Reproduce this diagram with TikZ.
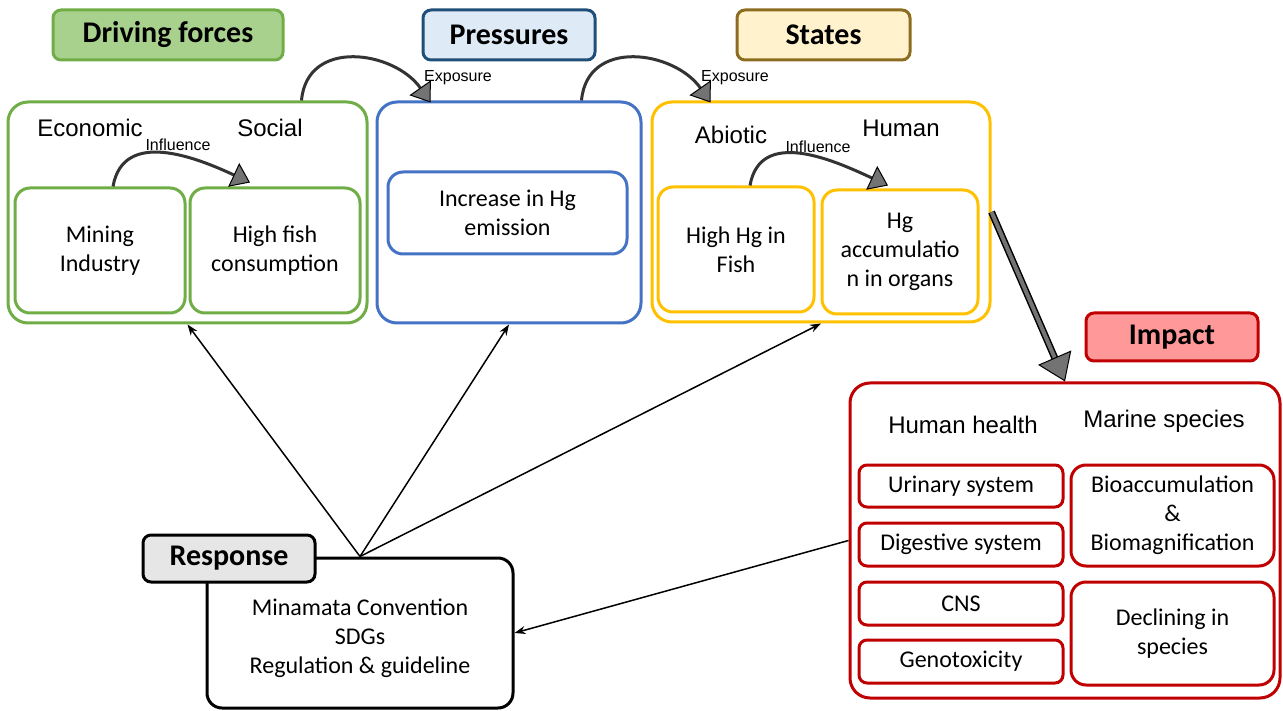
\documentclass[tikz,border=0pt]{standalone}
\usepackage{fontspec}
\setmainfont{Carlito}
\newfontfamily\arialfont{Liberation Sans}
\usetikzlibrary{arrows.meta}
\definecolor{dgreen}{HTML}{70AD47}
\definecolor{lgreen}{HTML}{A9D18E}
\definecolor{dblue}{HTML}{4472C4}
\definecolor{navy}{HTML}{1F4E79}
\definecolor{lblue}{HTML}{DEEBF7}
\definecolor{dyellow}{HTML}{FFC000}
\definecolor{lyellow}{HTML}{FFF2CC}
\definecolor{olive}{HTML}{8C6D1F}
\definecolor{dred}{HTML}{C00000}
\definecolor{lred}{HTML}{FF9999}
\definecolor{lgrey}{HTML}{E7E6E6}

\begin{document}
\begin{tikzpicture}[x=1pt,y=-1pt,
  box/.style={draw,line width=3pt,rounded corners=15pt,align=center,inner sep=0pt,
    font=\fontsize{24}{29}\selectfont},
  bigbox/.style={box,rounded corners=20pt},
  head/.style={draw,line width=3pt,rounded corners=8pt,minimum width=172pt,minimum height=48pt,
    inner sep=0pt,font=\fontsize{30}{36}\selectfont\bfseries},
  lbl/.style={font=\arialfont\fontsize{24}{28}\selectfont},
  small/.style={font=\arialfont\fontsize{16}{18}\selectfont},
  curl/.style={line width=3pt,draw=black!80,
    -{Triangle[length=18pt,width=26pt,fill=black!55,color=black,line width=1pt]}},
  resp/.style={line width=1.5pt,-{Stealth[length=11pt,width=8pt]}}]
\useasboundingbox (0,0) rectangle (1283,711);

% driving forces
\node[head,fill=lgreen,draw=dgreen,minimum width=230pt,minimum height=50pt] (hdrv) at (168,35) {Driving forces};
\node[bigbox,draw=dgreen,minimum width=359pt,minimum height=221pt] (drv) at (187.5,212.5) {};
\node[box,draw=dgreen,minimum width=170pt,minimum height=125pt] (min) at (100,250.5) {Mining\\Industry};
\node[box,draw=dgreen,minimum width=170pt,minimum height=125pt] (fish) at (275,250.5) {High fish\\consumption};
\node[lbl] (eco) at (90,128) {Economic};
\node[lbl] (soc) at (270,128) {Social};
\node[small] (infl1) at (178,145) {Influence};
\draw[curl] ([xshift=13pt]min.north) to[out=80,in=155,looseness=1.1] ([xshift=-25pt,yshift=4pt]fish.north);

% pressures
\node[head,fill=lblue,draw=navy,minimum height=50pt] (hprs) at (509,35) {Pressures};
\node[bigbox,draw=dblue,minimum width=264pt,minimum height=221pt] (prs) at (509,212.5) {};
\node[box,draw=dblue,minimum width=239pt,minimum height=82pt] (hgem) at (507.5,213) {Increase in Hg\\emission};

% states
\node[head,fill=lyellow,draw=olive,minimum width=173pt,minimum height=50pt] (hsts) at (823.5,35) {States};
\node[bigbox,draw=dyellow,minimum width=338pt,minimum height=220pt] (sts) at (821,212) {};
\node[box,draw=dyellow,minimum width=156pt,minimum height=125pt] (hgf) at (736,249.5) {High Hg in\\Fish};
\node[box,draw=dyellow,minimum width=156pt,minimum height=124pt] (hgo) at (900,252) {Hg\\accumulatio\\n in organs};
\node[lbl] (abio) at (731,135) {Abiotic};
\node[lbl] (hum) at (901,128) {Human};
\node[small] (infl2) at (818,147) {Influence};
\draw[curl] ([xshift=14pt]hgf.north) to[out=80,in=155,looseness=1.1] ([xshift=-12pt,yshift=3pt]hgo.north);

% exposure
\node[small] (exp1) at (458,78) {Exposure};
\node[small] (exp2) at (735,78) {Exposure};
\draw[curl] ([xshift=-67pt]drv.north east) to[out=85,in=125,looseness=1.25] ([xshift=55pt,yshift=-2pt]prs.north west);
\draw[curl] ([xshift=-61pt]prs.north east) to[out=85,in=125,looseness=1.25] ([xshift=60pt,yshift=-2pt]sts.north west);

% impact
\node[head,fill=lred,draw=dred] (himp) at (1172,337) {Impact};
\node[bigbox,draw=dred,minimum width=430pt,minimum height=315pt] (imp) at (1065,540.5) {};
\node[lbl] (hh) at (963,425) {Human health};
\node[lbl] (ms) at (1164,421) {Marine species};
\node[box,draw=dred,rounded corners=8pt,minimum width=204pt,minimum height=42pt] (uri) at (961,486) {Urinary system};
\node[box,draw=dred,rounded corners=8pt,minimum width=204pt,minimum height=43pt] (dig) at (961,544.5) {Digestive system};
\node[box,draw=dred,rounded corners=8pt,minimum width=204pt,minimum height=43pt] (cns) at (961,603.5) {CNS};
\node[box,draw=dred,rounded corners=8pt,minimum width=204pt,minimum height=43pt] (gen) at (961,661.5) {Genotoxicity};
\node[box,draw=dred,minimum width=203pt,minimum height=101pt] (bio) at (1172.5,515.5) {Bioaccumulation\\\&\\Biomagnification};
\node[box,draw=dred,minimum width=203pt,minimum height=103pt] (dec) at (1172.5,633.5) {Declining in\\species};

% big arrow states -> impact
\draw[line width=7pt,black,shorten >=20pt] (sts.east) -- (imp.north);
\draw[line width=4pt,black!55,
  -{Triangle[length=26pt,width=36pt,fill=black!55,color=black,line width=1pt]}] (sts.east) -- (imp.north);

% response
\node[box,draw=black,minimum width=306pt,minimum height=150pt] (rsp) at (360,633) {};
\node[box,draw=none] (rsptxt) at ([yshift=-5pt]rsp.center) {Minamata Convention\\SDGs\\Regulation \& guideline};
\node[head,fill=lgrey,draw=black,minimum height=47pt] (hrsp) at (229,558.5) {Response};
\draw[resp] (rsp.north) -- (drv.south);
\draw[resp] (rsp.north) -- (prs.south);
\draw[resp] (rsp.north) -- (sts.south);
\draw[resp] (imp.west) -- (rsp.east);
\end{tikzpicture}
\end{document}
